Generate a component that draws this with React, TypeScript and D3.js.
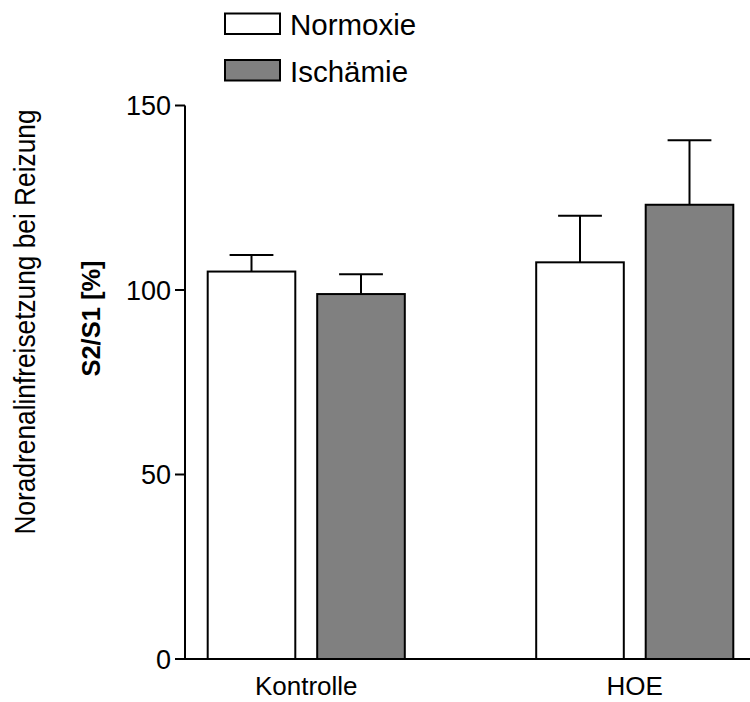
import React from "react";
import * as d3 from "d3";

const groups = ["Kontrolle", "HOE"];
const conditions = ["Normoxie", "Ischämie"];
const normoxieMeans = [105.0, 107.5];
const normoxieErrors = [4.5, 12.6];
const ischaemieMeans = [98.9, 123.1];
const ischaemieErrors = [5.4, 17.5];
const yTicks = [0, 50, 100, 150];

const fills: Record<string, string> = { Normoxie: "#ffffff", "Ischämie": "#808080" };

const W = 750;
const H = 702;
const FONT = "Liberation Sans, Arial, Helvetica, sans-serif";

export default function App() {
  const y = d3.scaleLinear().domain([0, 150]).range([659, 105.5]);
  const x0 = d3.scaleBand<string>().domain(groups).range([207.7, 733.3]).paddingInner(0.4).paddingOuter(0);
  const x1 = d3.scaleBand<string>().domain(conditions).range([0, x0.bandwidth()]).paddingInner(0.2).paddingOuter(0);

  const rows = groups.flatMap((g, i) => [
    { group: g, cond: "Normoxie", mean: normoxieMeans[i], err: normoxieErrors[i] },
    { group: g, cond: "Ischämie", mean: ischaemieMeans[i], err: ischaemieErrors[i] },
  ]);

  const axisX = 185;
  const bw = x1.bandwidth();

  return (
    <svg width={W} height={H} style={{ position: "absolute", left: 0, top: 0, background: "#fff" }}>
      <rect x={0} y={0} width={W} height={H} fill="#fff" />
      {/* bars with upward SEM whiskers */}
      {rows.map((r, i) => {
        const bx = (x0(r.group) as number) + (x1(r.cond) as number);
        const cx = bx + bw / 2;
        return (
          <g key={i}>
            <line x1={cx} x2={cx} y1={y(r.mean)} y2={y(r.mean + r.err)} stroke="#000" strokeWidth={2} />
            <line x1={cx - bw / 4} x2={cx + bw / 4} y1={y(r.mean + r.err)} y2={y(r.mean + r.err)} stroke="#000" strokeWidth={2} />
            <rect x={bx} y={y(r.mean)} width={bw} height={y(0) - y(r.mean)} fill={fills[r.cond]} stroke="#000" strokeWidth={2} />
          </g>
        );
      })}
      {/* y axis */}
      <line x1={axisX} x2={axisX} y1={y(150)} y2={y(0)} stroke="#000" strokeWidth={2} />
      {yTicks.map((t) => (
        <g key={t}>
          <line x1={axisX - 10} x2={axisX} y1={y(t)} y2={y(t)} stroke="#000" strokeWidth={2} />
          <text x={axisX - 14} y={y(t)} dy="0.36em" textAnchor="end" fontFamily={FONT} fontSize={27} fill="#000">
            {t}
          </text>
        </g>
      ))}
      {/* x axis */}
      <line x1={axisX - 1} x2={W} y1={y(0)} y2={y(0)} stroke="#000" strokeWidth={2} />
      {groups.map((g) => (
        <text key={g} x={(x0(g) as number) + x0.bandwidth() / 2} y={695} textAnchor="middle" fontFamily={FONT} fontSize={26} fill="#000">
          {g}
        </text>
      ))}
      {/* axis titles */}
      <text
        transform="translate(35,322) rotate(-90)"
        textAnchor="middle"
        fontFamily={FONT}
        fontSize={30}
        textLength={425}
        lengthAdjust="spacingAndGlyphs"
        fill="#000"
      >
        Noradrenalinfreisetzung bei Reizung
      </text>
      <text transform="translate(100,318.5) rotate(-90)" textAnchor="middle" fontFamily={FONT} fontSize={25.5} fontWeight="bold" fill="#000">
        S2/S1 [%]
      </text>
      {/* legend */}
      {conditions.map((c, i) => (
        <g key={c} transform={`translate(225,${13.5 + i * 46.5})`}>
          <rect x={0} y={0} width={55} height={20.5} fill={fills[c]} stroke="#000" strokeWidth={2} />
          <text x={65} y={21.5} fontFamily={FONT} fontSize={29.5} fill="#000">
            {c}
          </text>
        </g>
      ))}
    </svg>
  );
}
